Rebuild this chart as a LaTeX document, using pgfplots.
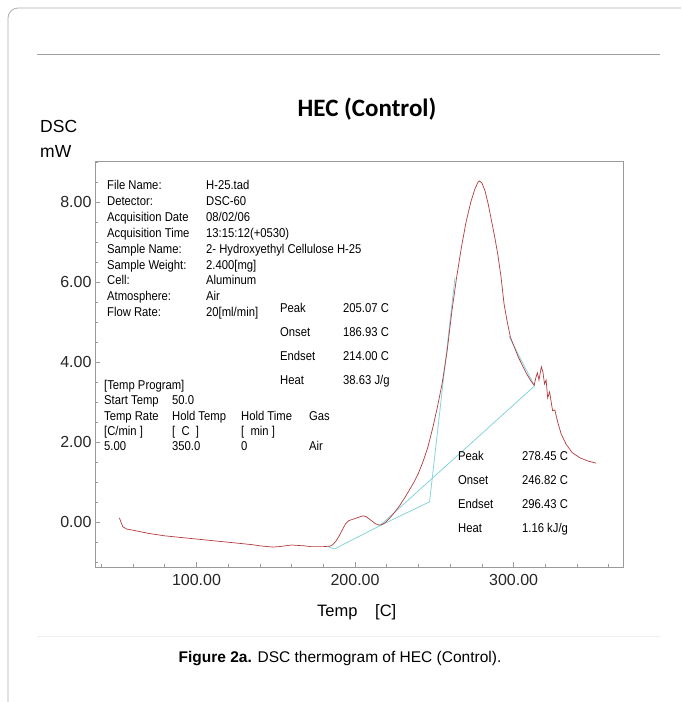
\documentclass[border=0pt]{standalone}
\usepackage{pgfplots}
\pgfplotsset{compat=1.18}
\usepackage{fontspec}
\setmainfont{Liberation Sans}
\newfontfamily\narrowfont[FakeStretch=0.88]{Liberation Sans}
\newfontfamily\titlefont{Carlito}
\definecolor{dscred}{HTML}{B23A3E}
\definecolor{dsccyan}{HTML}{86D4DA}
\definecolor{framegray}{HTML}{9A9A9A}
\newcommand\info[3]{\node[anchor=base west,inner sep=0,font=\narrowfont\fontsize{12.8}{15}\selectfont] at (#1pt,-#2pt) {#3};}
\begin{document}
\begin{tikzpicture}
\useasboundingbox (0pt,0pt) rectangle (681pt,-702pt);
\draw[framegray!80, line width=0.8pt] (8pt,-702pt) -- (8pt,-18pt) arc[start angle=180,end angle=90,radius=10pt] -- (681pt,-8pt);
\draw[gray!75, line width=1pt] (37pt,-54pt) -- (660pt,-54pt);
\draw[gray!12, line width=0.8pt] (37pt,-636pt) -- (660pt,-636pt);
\node[anchor=base, inner sep=0, font=\titlefont\bfseries\fontsize{25}{28}\selectfont] at (367pt,-116pt) {HEC (Control)};
\node[anchor=base west, inner sep=0, font=\fontsize{17.5}{20}\selectfont] at (40pt,-132pt) {DSC};
\node[anchor=base west, inner sep=0, font=\fontsize{17.5}{20}\selectfont] at (40pt,-157pt) {mW};
\begin{axis}[
  at={(95pt,-567pt)}, anchor=south west, scale only axis,
  width=528pt, height=406pt,
  xmin=36, xmax=369, ymin=-1.13, ymax=9.03,
  axis line style={framegray, line width=0.8pt},
  xtick={100,200,300}, minor xtick={40,60,...,360},
  ytick={0,2,4,6,8}, minor ytick={-1,-0.5,...,9},
  tick align=inside, xtick pos=bottom, ytick pos=left,
  major tick length=5pt, minor tick length=3pt,
  tick style={framegray, line width=0.6pt},
  /pgf/number format/.cd, fixed, fixed zerofill, precision=2, assume math mode=true,
  /pgfplots/.cd,
  ticklabel style={font=\fontsize{16}{18}\selectfont, text=black!85},
  xticklabel style={yshift=-4pt},
]
\addplot[dsccyan, line width=0.8pt] coordinates {(183,-0.62) (187,-0.68) (215.5,-0.1) (247,0.5) (263,6.1)};
\addplot[dsccyan, line width=0.8pt] coordinates {(215.5,-0.1) (313.2,3.4)};
\addplot[dsccyan, line width=0.8pt] coordinates {(297,4.65) (313.2,3.4)};
\addplot[dscred, line width=0.7pt] table {
51.4 0.10
52.5 -0.02
53.5 -0.12
56 -0.18
60 -0.21
65 -0.25
70 -0.29
75 -0.32
80 -0.35
85 -0.37
90 -0.39
95 -0.41
100 -0.43
105 -0.45
110 -0.47
115 -0.49
120 -0.51
125 -0.53
130 -0.55
135 -0.57
140 -0.60
145 -0.62
148 -0.63
152 -0.62
156 -0.60
160 -0.58
164 -0.59
168 -0.60
172 -0.62
176 -0.62
180 -0.62
184 -0.61
186 -0.57
188 -0.48
190 -0.35
192 -0.20
194 -0.05
196 0.03
199 0.07
202 0.11
205 0.15
207 0.13
209 0.07
211 0.01
213 -0.05
215 -0.08
217 -0.07
219 -0.02
222 0.10
225 0.24
228 0.40
231 0.58
234 0.78
237 0.98
240 1.22
243 1.52
246 1.88
249 2.35
252 2.88
255 3.48
258 4.25
261 5.25
264 6.10
267 6.85
270 7.50
273 8.00
275.5 8.32
277.5 8.50
278.5 8.53
280 8.48
282 8.28
284 7.95
286 7.55
288 7.15
290 6.70
292 6.15
294 5.45
296 5.00
298 4.62
300 4.42
303 4.12
306 3.88
308 3.72
311 3.52
313 3.42
314 3.60
315 3.73
316 3.55
317.5 3.88
318.5 3.75
319.5 3.45
320.5 3.55
321.5 3.10
322.7 3.25
324.6 2.78
326 2.80
327.8 2.50
330 2.20
333 1.95
337 1.73
342 1.60
347 1.52
352 1.47
};
\end{axis}
% instrument info
\info{107}{189.5}{File Name:}       \info{206}{189.5}{H-25.tad}
\info{107}{205.4}{Detector:}        \info{206}{205.4}{DSC-60}
\info{107}{221.3}{Acquisition Date} \info{206}{221.3}{08/02/06}
\info{107}{237.2}{Acquisition Time} \info{206}{237.2}{13:15:12(+0530)}
\info{107}{253.1}{Sample Name:}     \info{206}{253.1}{2- Hydroxyethyl Cellulose H-25}
\info{107}{269.0}{Sample Weight:}   \info{206}{269.0}{2.400[mg]}
\info{107}{284.9}{Cell:}            \info{206}{284.9}{Aluminum}
\info{107}{300.8}{Atmosphere:}      \info{206}{300.8}{Air}
\info{107}{316.7}{Flow Rate:}       \info{206}{316.7}{20[ml/min]}
% first peak results
\info{280}{312.5}{Peak}   \info{343}{312.5}{205.07 C}
\info{280}{336.5}{Onset}  \info{343}{336.5}{186.93 C}
\info{280}{360.5}{Endset} \info{343}{360.5}{214.00 C}
\info{280}{384.5}{Heat}   \info{343}{384.5}{38.63 J/g}
% temperature program
\info{104}{389.5}{[Temp Program]}
\info{104}{404.5}{Start Temp} \info{172}{404.5}{50.0}
\info{104}{420}{Temp Rate} \info{172}{420}{Hold Temp} \info{241}{420}{Hold Time} \info{309}{420}{Gas}
\info{104}{435.5}{[C/min~]} \info{172}{435.5}{[~~C~~]} \info{241}{435.5}{[~~min~]}
\info{104}{450}{5.00} \info{172}{450}{350.0} \info{241}{450}{0} \info{309}{450}{Air}
% second peak results
\info{458}{460.5}{Peak}   \info{522}{460.5}{278.45 C}
\info{458}{484.5}{Onset}  \info{522}{484.5}{246.82 C}
\info{458}{508.5}{Endset} \info{522}{508.5}{296.43 C}
\info{458}{532.5}{Heat}   \info{522}{532.5}{1.16 kJ/g}
% axis title
\node[anchor=base west, inner sep=0, font=\fontsize{16.5}{18}\selectfont] at (317pt,-616pt) {Temp};
\node[anchor=base west, inner sep=0, font=\fontsize{16.5}{18}\selectfont] at (375pt,-616pt) {[C]};
% caption
\node[anchor=base, inner sep=0, font=\fontsize{15.5}{18}\selectfont] at (340pt,-662pt) {\textbf{Figure 2a.} DSC thermogram of HEC (Control).};
\end{tikzpicture}
\end{document}
